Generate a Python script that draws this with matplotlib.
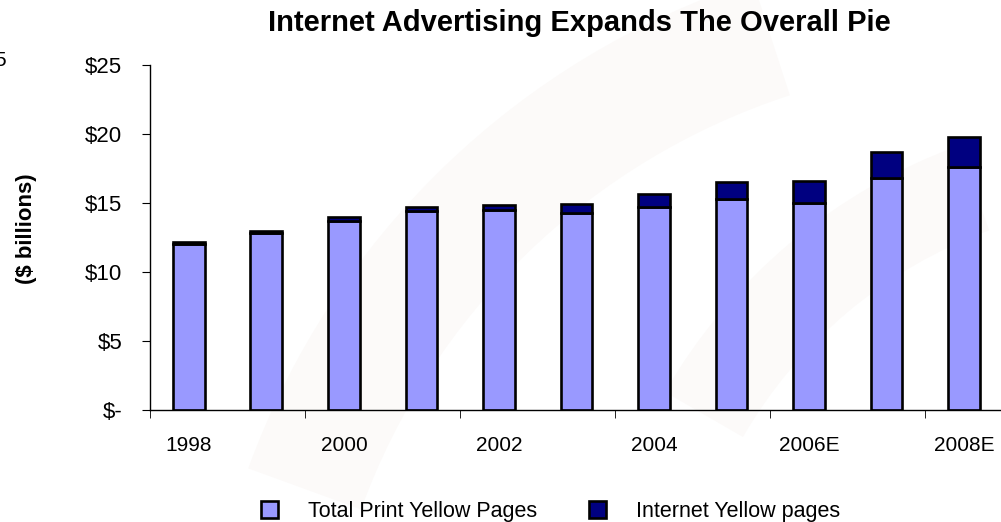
import matplotlib
matplotlib.use("Agg")
import matplotlib.pyplot as plt
import numpy as np
from matplotlib.patches import Wedge

years = ["1998", "1999", "2000", "2001", "2002", "2003", "2004", "2005",
         "2006E", "2007E", "2008E"]
print_yp = [12.0, 12.8, 13.7, 14.4, 14.5, 14.3, 14.7, 15.3, 15.0, 16.8, 17.6]
internet_yp = [0.15, 0.2, 0.3, 0.3, 0.35, 0.65, 0.95, 1.25, 1.6, 1.9, 2.15]
yticks = [0, 5, 10, 15, 20, 25]
ytick_labels = ["$-", "$5", "$10", "$15", "$20", "$25"]

plt.rcParams["font.family"] = ["Liberation Sans", "DejaVu Sans"]

fig = plt.figure(figsize=(10.01, 5.22), dpi=100)

# very faint background logo swooshes
bg = fig.add_axes([0, 0, 1, 1], zorder=-1)
bg.set_xlim(0, 1001)
bg.set_ylim(0, 522)
bg.axis("off")
shade = "#fcfaf9"
bg.add_patch(Wedge((1000, -220), 800, 108, 160, width=120, color=shade, lw=0))
bg.add_patch(Wedge((1150, -150), 560, 110, 150, width=90, color=shade, lw=0))

ax = fig.add_axes([0.1499, 0.2146, 0.852, 0.661])
ax.patch.set_alpha(0)

x = np.arange(len(years))
ax.bar(x, print_yp, width=0.41, color="#9999ff", edgecolor="black",
       linewidth=1.9, label="Total Print Yellow Pages")
ax.bar(x, internet_yp, width=0.41, bottom=print_yp, color="#000080",
       edgecolor="black", linewidth=1.9, label="Internet Yellow pages")

ax.set_xlim(-0.5, len(years) - 0.5)
ax.set_ylim(0, 25)
ax.set_yticks(yticks)
ax.set_yticklabels(ytick_labels, fontsize=16)

# labels on every other category, tick marks on group boundaries
ax.set_xticks(x[::2])
ax.set_xticklabels(years[::2], fontsize=15)
ax.tick_params(axis="x", which="major", length=0, pad=19)
ax.set_xticks(np.arange(-0.5, len(years), 2), minor=True)
ax.tick_params(axis="x", which="minor", length=6, direction="out")
ax.tick_params(axis="y", length=6, pad=14)

for side in ["top", "right"]:
    ax.spines[side].set_visible(False)
for side in ["left", "bottom"]:
    ax.spines[side].set_linewidth(1.0)

fig.text(0.026, 0.561, "($ billions)", ha="center", va="center",
         rotation=90, fontsize=16, fontweight="bold")

fig.text(0.579, 0.955, "Internet Advertising Expands The Overall Pie",
         ha="center", va="center", fontsize=21, fontweight="bold")
fig.text(0.0, 0.885, "5", ha="center", va="center", fontsize=15)

fig.legend(loc="center", bbox_to_anchor=(0.55, 0.02), ncol=2, frameon=False,
           fontsize=15.5, handlelength=0.8, handleheight=0.8,
           handletextpad=1.4, columnspacing=2.4, borderaxespad=0)

fig.savefig("out.png", dpi=100)
